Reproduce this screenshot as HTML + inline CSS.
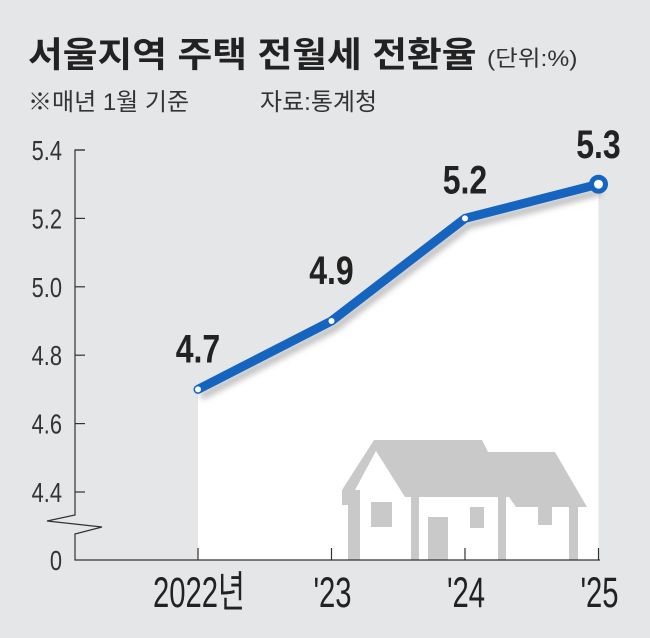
<!DOCTYPE html>
<html><head><meta charset="utf-8"><style>
html,body{margin:0;padding:0;background:#e5e6e8;}
svg{display:block;font-family:"Liberation Sans","Noto Sans CJK KR",sans-serif;}
</style></head><body>
<svg width="650" height="638" viewBox="0 0 650 638" id="chart">
<rect width="650" height="638" fill="#e5e6e8"/>
<text x="28" y="67" font-size="35" font-weight="bold" fill="#222" transform="translate(28 0) scale(1.08 1) translate(-28 0)">서울지역 주택 전월세 전환율</text>
<text x="487" y="66" font-size="22" fill="#333" transform="translate(487 0) scale(1.12 1) translate(-487 0)">(단위:%)</text>
<text x="28" y="110" font-size="24" fill="#333">※매년 1월 기준</text>
<text x="260" y="110" font-size="24" fill="#333">자료:통계청</text>
<defs><filter id="sh" x="-10%" y="-10%" width="120%" height="140%"><feGaussianBlur stdDeviation="3"/></filter></defs>
<g id="plot"></g>
</svg>
<script>
const years=['2022년',"'23","'24","'25"];
const values=[4.7,4.9,5.2,5.3];
const yTicks=[5.4,5.2,5.0,4.8,4.6,4.4];
const labels=['4.7','4.9','5.2','5.3'];
const NS='http://www.w3.org/2000/svg';
const g=document.getElementById('plot');
const x0=198,dx=133.5,base=560,axX=75;
const xs=i=>x0+i*dx;
const ys=v=>150+(5.4-v)*342;
function mk(t,a,p){const e=document.createElementNS(NS,t);for(const k in a)e.setAttribute(k,a[k]);(p||g).appendChild(e);return e;}
let d='M'+xs(0)+','+base;
values.forEach((v,i)=>{d+=' L'+xs(i)+','+ys(v);});
d+=' L'+xs(values.length-1)+','+base+' Z';
const area=mk('path',{d:d,fill:'#fff'});


const house=mk('g',{fill:'#c9c9c9'});


mk('path',{d:'M342,505 L342,490 L374,440 L482,440 L488,452 L555,452 L587,507 L516,507 L509,497 L405,497 L376,451 L355,490 L355,505 Z'},house);
mk('rect',{x:348,y:490,width:12,height:70},house);
mk('rect',{x:411,y:497,width:8,height:63},house);
mk('rect',{x:498,y:497,width:8,height:63},house);
mk('rect',{x:569,y:507,width:9,height:53},house);
mk('rect',{x:371,y:502,width:21,height:25},house);
mk('rect',{x:428,y:517,width:20,height:43},house);
mk('rect',{x:470,y:507,width:14,height:21},house);
mk('rect',{x:538,y:507,width:14,height:18},house);
const ax=mk('path',{d:'M'+(axX+10)+',150 L'+axX+',150 L'+axX+',515 L47,521 L102,527 L75,534 L75,560 L600,560',fill:'none',stroke:'#333','stroke-width':1.2});


yTicks.forEach(t=>{
 const y=ys(t);
 const l=mk('line',{x1:axX,x2:axX+10,y1:y,y2:y,stroke:'#333','stroke-width':1.2});
 
 
 const tx=mk('text',{x:62,y:y+10,'font-size':28,'text-anchor':'end',fill:'#333',transform:'translate(62 0) scale(0.78 1) translate(-62 0)'});
 tx.textContent=t.toFixed(1);
 
 
});
const z=mk('text',{x:62,y:570,'font-size':28,'text-anchor':'end',fill:'#333',transform:'translate(62 0) scale(0.78 1) translate(-62 0)'});
z.textContent='0';


years.forEach((yr,i)=>{
 const x=xs(i);
 const l=mk('line',{x1:x,x2:x,y1:548,y2:560,stroke:'#333','stroke-width':1.2});
 
 
 const tx=mk('text',{x:x+1,y:607,'font-size':43,'text-anchor':'middle',fill:'#222',transform:'translate('+(x+1)+' 0) scale(0.68 1) translate('+(-x-1)+' 0)'});
 tx.textContent=yr;
 
 
});
const pts=values.map((v,i)=>xs(i)+','+ys(v)).join(' ');
const shadow=mk('polyline',{points:pts,fill:'none',stroke:'#888','stroke-width':8,opacity:0.5,filter:'url(#sh)',transform:'translate(3 7)'});


const line=mk('polyline',{points:pts,fill:'none',stroke:'#1565c0','stroke-width':9,'stroke-linejoin':'round','stroke-linecap':'round'});


const lift=[27,37,25,26];
values.forEach((v,i)=>{
 const last=i===values.length-1;
 const c=mk('circle',{cx:xs(i),cy:ys(v),r:last?7:3,fill:'#fff',stroke:last?'#1565c0':'none','stroke-width':last?5:0});
 
 
 const cx=xs(i);
 const t=mk('text',{x:cx,y:ys(v)-lift[i],'font-size':40,'font-weight':'bold','text-anchor':'middle',fill:'#222',transform:'translate('+cx+' 0) scale(0.8 1) translate('+(-cx)+' 0)'});
 t.textContent=labels[i];
 
 
});
</script>
</body></html>
